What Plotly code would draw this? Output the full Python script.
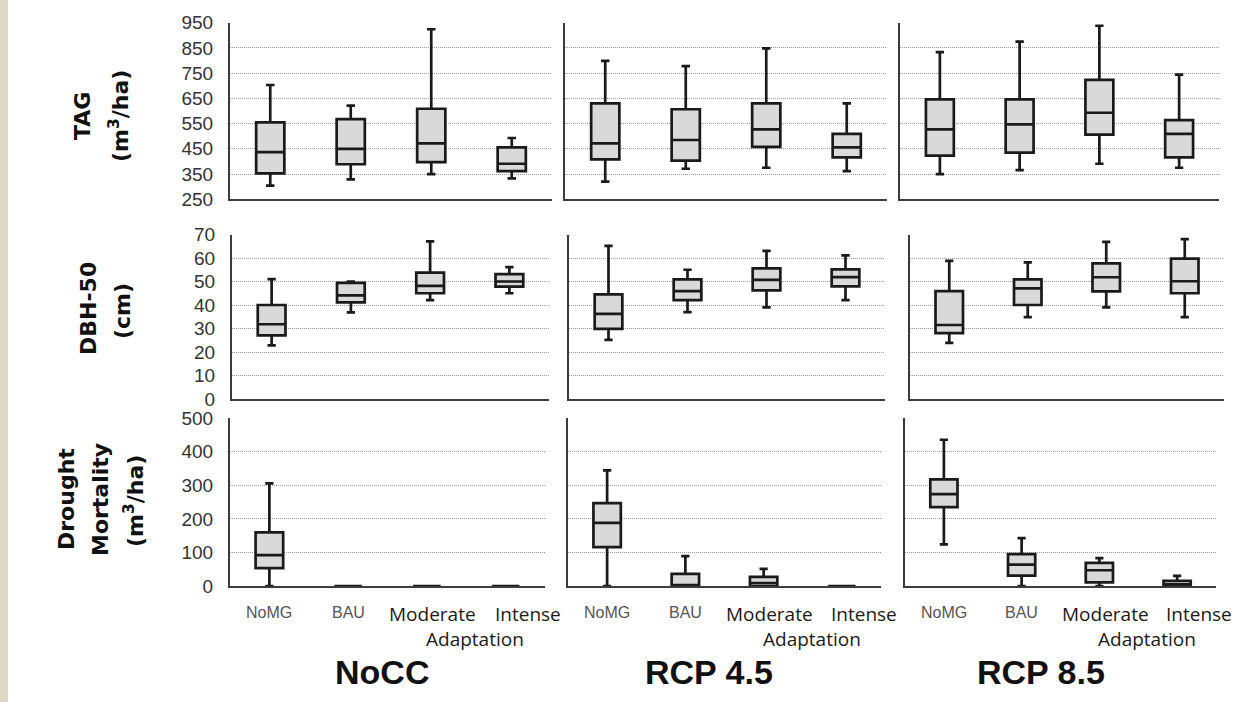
import plotly.graph_objects as go

W, H = 1248, 702

categories = ["NoMG", "BAU", "Moderate", "Intense"]
scenarios = ["NoCC", "RCP 4.5", "RCP 8.5"]

# ---- TAG (m3/ha): one inner list per scenario (NoCC, RCP 4.5, RCP 8.5), values per category
tag_lower = [[304, 329, 350, 333], [320, 371, 375, 362], [350, 366, 391, 375]]
tag_q1 = [[353, 389, 397, 362], [408, 403, 458, 416], [423, 435, 506, 416]]
tag_median = [[437, 450, 472, 391], [472, 485, 527, 456], [527, 547, 593, 509]]
tag_q3 = [[555, 568, 609, 456], [630, 607, 630, 509], [646, 646, 723, 564]]
tag_upper = [[703, 621, 924, 493], [799, 778, 848, 630], [833, 875, 938, 744]]

# ---- DBH-50 (cm)
dbh_lower = [[22.8, 36.9, 42.1, 45.0], [25.2, 37.0, 39.0, 42.1], [23.9, 34.8, 39.0, 34.8]]
dbh_q1 = [[27.1, 41.1, 45.0, 47.8], [29.8, 42.1, 46.2, 47.9], [28.0, 40.0, 45.8, 45.0]]
dbh_median = [[31.8, 44.1, 48.1, 50.0], [36.2, 45.9, 50.7, 51.9], [31.5, 47.1, 51.8, 50.1]]
dbh_q3 = [[40.0, 49.4, 53.8, 53.1], [44.5, 50.9, 55.6, 55.2], [45.9, 50.9, 57.7, 59.7]]
dbh_upper = [[51.0, 50.0, 67.1, 56.1], [65.2, 55.0, 63.0, 61.1], [58.8, 58.1, 66.9, 68.0]]

# ---- Drought mortality (m3/ha)
dm_lower = [[0, 0, 0, 0], [0, 0, 0, 0], [124, 0, 0, 0]]
dm_q1 = [[53, 0, 0, 0], [116, 0, 0, 0], [235, 31, 11, 0]]
dm_median = [[92, 0, 0, 0], [188, 3, 9, 0], [274, 64, 47, 5]]
dm_q3 = [[160, 0, 0, 0], [247, 36, 27, 0], [318, 95, 69, 15]]
dm_upper = [[306, 0, 0, 0], [345, 89, 51, 0], [436, 143, 83, 30]]

# y-axis settings per row
y_ranges = [[250, 950], [0, 70], [0, 500]]
y_dticks = [100, 10, 100]

# ---- layout geometry (pixels)
col_px = [
    [(230, 552), (565, 887), (900, 1219)],
    [(232, 549), (569, 885), (910, 1224)],
    [(230, 545), (568, 881), (905, 1216)],
]
row_px = [(22.7, 199.3), (234.5, 399.0), (418.3, 586.0)]

stats = [
    (tag_lower, tag_q1, tag_median, tag_q3, tag_upper),
    (dbh_lower, dbh_q1, dbh_median, dbh_q3, dbh_upper),
    (dm_lower, dm_q1, dm_median, dm_q3, dm_upper),
]

fig = go.Figure()
layout = dict(
    width=W, height=H,
    margin=dict(l=0, r=0, t=0, b=0, pad=0),
    paper_bgcolor="white", plot_bgcolor="white",
    showlegend=False, boxgap=0.5, boxmode="overlay",
)

BOX_LINE = "#1a1a1a"
AXIS_LINE = "#3c3c3c"
GRID = "#9a9a9a"

for r in range(3):
    lo, q1, md, q3, up = stats[r]
    y0px, y1px = row_px[r]
    for c in range(3):
        idx = r * 3 + c + 1
        sfx = "" if idx == 1 else str(idx)
        x0px, x1px = col_px[r][c]
        fig.add_trace(go.Box(
            x=categories,
            lowerfence=lo[c], q1=q1[c], median=md[c], q3=q3[c], upperfence=up[c],
            xaxis="x" + sfx, yaxis="y" + sfx,
            fillcolor="#d9d9d9",
            line=dict(color=BOX_LINE, width=2.7),
            whiskerwidth=0.3,
            boxpoints=False,
            hoverinfo="skip",
        ))
        layout["xaxis" + sfx] = dict(
            domain=[x0px / W, x1px / W],
            anchor="y" + sfx,
            type="category",
            range=[-0.5, 3.5],
            showline=True, linecolor=AXIS_LINE, linewidth=2,
            showgrid=False, zeroline=False,
            showticklabels=False, ticks="",
            automargin=False,
            fixedrange=True,
        )
        layout["yaxis" + sfx] = dict(
            domain=[1 - y1px / H, 1 - y0px / H],
            anchor="x" + sfx,
            range=y_ranges[r],
            tick0=y_ranges[r][0], dtick=y_dticks[r],
            showline=True, linecolor=AXIS_LINE, linewidth=2,
            showgrid=True, gridcolor=GRID, gridwidth=1, griddash="1px,1px",
            zeroline=False,
            showticklabels=(c == 0), ticks="",
            ticklabelstandoff=11,
            tickfont=dict(family="Liberation Sans, Arial", size=19, color="#333333"),
            automargin=False,
            fixedrange=True,
        )

annotations = []

# x category labels under the bottom row
label_y = 1 - 612 / H
label_y2 = 1 - 614 / H
adapt_y = 1 - 639 / H
for c in range(3):
    xr = "x" + str(7 + c)
    annotations.append(dict(x=0, y=label_y, xref=xr, yref="paper", text=categories[0],
                            showarrow=False, xanchor="center", yanchor="middle",
                            font=dict(family="Liberation Sans, Arial", size=16, color="#555555")))
    annotations.append(dict(x=1, y=label_y, xref=xr, yref="paper", text=categories[1],
                            showarrow=False, xanchor="center", yanchor="middle",
                            font=dict(family="Liberation Sans, Arial", size=16, color="#555555")))
    annotations.append(dict(x=2, y=label_y2, xref=xr, yref="paper", text=categories[2], xshift=6,
                            showarrow=False, xanchor="center", yanchor="middle",
                            font=dict(family="Open Sans", size=19, color="#1a1a1a")))
    annotations.append(dict(x=3, y=label_y2, xref=xr, yref="paper", text=categories[3], xshift=22,
                            showarrow=False, xanchor="center", yanchor="middle",
                            font=dict(family="Open Sans", size=19, color="#1a1a1a")))
    annotations.append(dict(x=2.5, y=adapt_y, xref=xr, yref="paper", text="Adaptation", xshift=9,
                            showarrow=False, xanchor="center", yanchor="middle",
                            font=dict(family="Open Sans", size=19, color="#1a1a1a")))

# scenario titles
title_x = [382, 709, 1041]
for c in range(3):
    annotations.append(dict(x=title_x[c] / W, y=1 - 672 / H, xref="paper", yref="paper",
                            text="<b>" + scenarios[c] + "</b>", showarrow=False,
                            xanchor="center", yanchor="middle",
                            font=dict(family="Liberation Sans, Arial", size=34, color="#111111")))

# y-axis titles (each line placed separately, rotated)
ytitles = [
    [("TAG", 83, 116), ("(m<sup>3</sup>/ha)", 119, 116)],
    [("DBH-50", 88, 309), ("(cm)", 122, 311)],
    [("Drought", 67, 499), ("Mortality", 100, 500), ("(m<sup>3</sup>/ha)", 134, 501)],
]
for lines in ytitles:
    for txt, xp, yp in lines:
        annotations.append(dict(x=xp / W, y=1 - yp / H, xref="paper", yref="paper",
                                text="<b>" + txt + "</b>", textangle=-90, showarrow=False,
                                xanchor="center", yanchor="middle",
                                font=dict(family="DejaVu Sans", size=22, color="#111111")))

layout["annotations"] = annotations
layout["shapes"] = [dict(type="rect", xref="paper", yref="paper", x0=0, x1=8 / W, y0=0, y1=1,
                         fillcolor="#DFD9C3", line=dict(width=0), layer="below")]

fig.update_layout(**layout)
fig.write_html(
    "out.html",
    config={"displayModeBar": False, "staticPlot": True},
    post_script="document.body.style.margin='0px';document.body.style.overflow='hidden';",
)
